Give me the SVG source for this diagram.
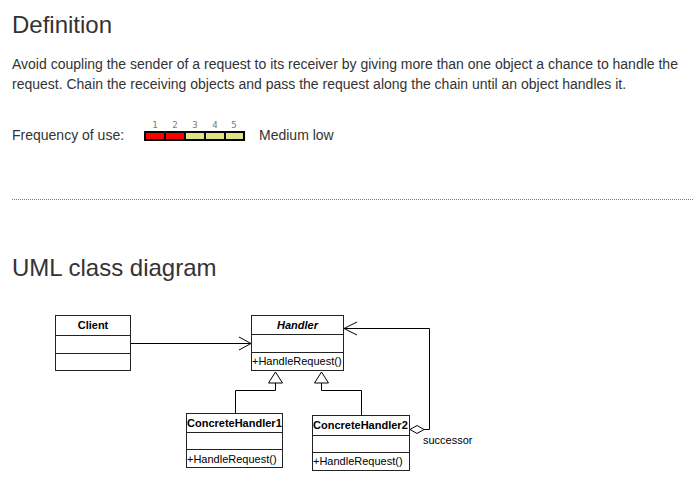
<svg xmlns="http://www.w3.org/2000/svg" width="694" height="481" viewBox="0 0 694 481">
<style>
  .h1 { font-family: "Liberation Sans", Arial, sans-serif; font-size: 24px; fill: #333; }
  .p { font-family: "Liberation Sans", Arial, sans-serif; font-size: 14px; fill: #333; }
  .num { font-family: "DejaVu Sans Mono", monospace; font-size: 9px; fill: #777; text-anchor: middle; }
  .box { fill: #fff; stroke: #222; stroke-width: 1; }
  .sep { stroke: #222; stroke-width: 1; }
  .cn { font-family: "Liberation Sans", Arial, sans-serif; font-size: 11px; font-weight: bold; fill: #000; }
  .mt { font-family: "Liberation Sans", Arial, sans-serif; font-size: 11px; fill: #000; }
  .conn { fill: none; stroke: #000; stroke-width: 1; }
  .head { fill: #fff; stroke: #000; stroke-width: 1; }
</style>
<defs>
  <pattern id="dots" x="12" y="199" width="2" height="1" patternUnits="userSpaceOnUse">
    <rect x="0" y="0" width="1" height="1" fill="#ff4a1c"/>
  </pattern>
</defs>
<rect width="694" height="481" fill="#fff"/>
<text class="h1" x="12" y="33">Definition</text>
<text class="p" x="12" y="69">Avoid coupling the sender of a request to its receiver by giving more than one object a chance to handle the</text>
<text class="p" x="12" y="89">request. Chain the receiving objects and pass the request along the chain until an object handles it.</text>
<text class="p" x="12" y="140">Frequency of use:</text>
<g id="freq">
  <rect x="144" y="131" width="101" height="10" fill="#000"/>
  <rect x="146" y="133" width="18" height="6" fill="#ff0000"/>
  <rect x="166" y="133" width="18" height="6" fill="#ff0000"/>
  <rect x="186" y="133" width="18" height="6" fill="#e0e084"/>
  <rect x="206" y="133" width="18" height="6" fill="#e0e084"/>
  <rect x="226" y="133" width="17" height="6" fill="#e0e084"/>
  <text class="num" x="155" y="128">1</text>
  <text class="num" x="175" y="128">2</text>
  <text class="num" x="195" y="128">3</text>
  <text class="num" x="215" y="128">4</text>
  <text class="num" x="234" y="128">5</text>
</g>
<text class="p" x="259" y="140">Medium low</text>
<rect x="12" y="199" width="682" height="1" fill="url(#dots)"/>
<text class="h1" x="12" y="276">UML class diagram</text>

<g id="connectors">
  <line class="conn" x1="130" y1="343.5" x2="251" y2="343.5"/>
  <polyline class="conn" points="239,337 251,343.5 239,350"/>
  <polyline class="conn" points="424,429.5 429.5,429.5 429.5,328.5 344,328.5"/>
  <polyline class="conn" points="357,322 344,328.5 357,335"/>
  <polygon class="head" points="410,429.5 417,425.5 424,429.5 417,433.5"/>
  <polyline class="conn" points="275.5,383 275.5,390.5 235.5,390.5 235.5,413"/>
  <polygon class="head" points="275.5,372 268.5,383 282.5,383"/>
  <polyline class="conn" points="321.5,383 321.5,390.5 361.5,390.5 361.5,415"/>
  <polygon class="head" points="321.5,372 314.5,383 328.5,383"/>
</g>
<text class="mt" x="423" y="444" fill="#333">successor</text>

<g id="client">
  <rect class="box" x="55.5" y="315.5" width="75" height="55"/>
  <line class="sep" x1="55.5" y1="335.5" x2="130.5" y2="335.5"/>
  <line class="sep" x1="55.5" y1="353.5" x2="130.5" y2="353.5"/>
  <text class="cn" x="93" y="329" text-anchor="middle">Client</text>
</g>
<g id="handler">
  <rect class="box" x="251.5" y="315.5" width="92" height="55"/>
  <line class="sep" x1="251.5" y1="334.5" x2="343.5" y2="334.5"/>
  <line class="sep" x1="251.5" y1="352.5" x2="343.5" y2="352.5"/>
  <text class="cn" x="297.5" y="329" text-anchor="middle" font-style="italic">Handler</text>
  <text class="mt" x="252" y="365">+HandleRequest()</text>
</g>
<g id="concretehandler1">
  <rect class="box" x="186.5" y="413.5" width="96" height="54"/>
  <line class="sep" x1="186.5" y1="432.5" x2="282.5" y2="432.5"/>
  <line class="sep" x1="186.5" y1="449.5" x2="282.5" y2="449.5"/>
  <text class="cn" x="187" y="427">ConcreteHandler1</text>
  <text class="mt" x="187" y="463">+HandleRequest()</text>
</g>
<g id="concretehandler2">
  <rect class="box" x="312.5" y="415.5" width="97" height="55"/>
  <line class="sep" x1="312.5" y1="435.5" x2="409.5" y2="435.5"/>
  <line class="sep" x1="312.5" y1="452.5" x2="409.5" y2="452.5"/>
  <text class="cn" x="313" y="429">ConcreteHandler2</text>
  <text class="mt" x="313" y="465">+HandleRequest()</text>
</g>
</svg>
